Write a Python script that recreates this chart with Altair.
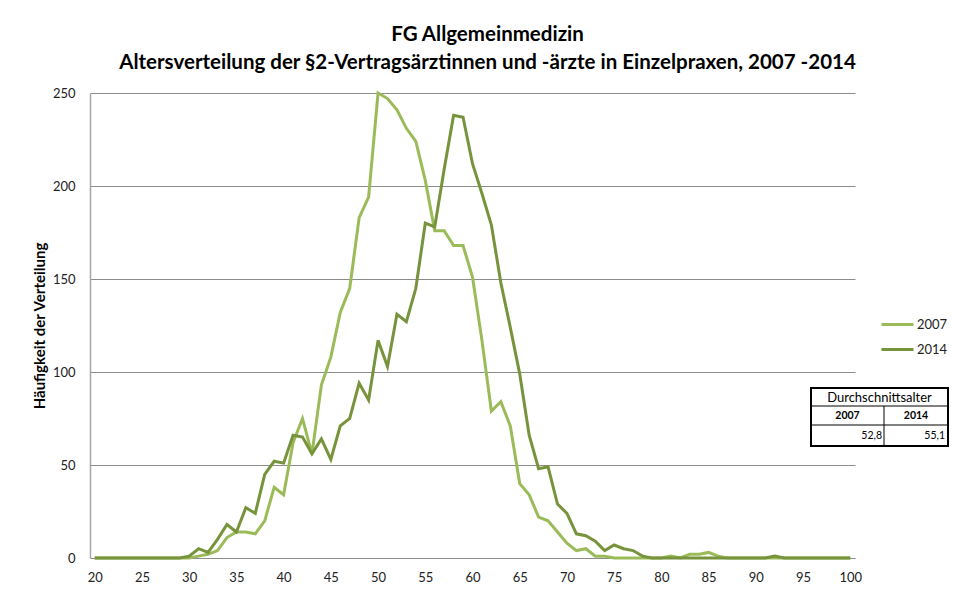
import altair as alt
import pandas as pd

# ---------------- data ----------------
ages = list(range(20, 101))
v2007 = [0, 0, 0, 0, 0, 0, 0, 0, 0, 0,          # 20-29
         0, 1, 2, 4, 11, 14, 14, 13, 20, 38,     # 30-39
         34, 62, 75, 56, 93, 108, 132, 145, 183, 194,   # 40-49
         250, 247, 241, 231, 224, 203, 176, 176, 168, 168,  # 50-59
         151, 117, 79, 84, 71, 40, 34, 22, 20, 14,  # 60-69
         8, 4, 5, 1, 1, 0, 0, 0, 0, 0,            # 70-79
         0, 1, 0, 2, 2, 3, 1, 0, 0, 0,            # 80-89
         0, 0, 0, 0, 0, 0, 0, 0, 0, 0,            # 90-99
         0]                                       # 100
v2014 = [0, 0, 0, 0, 0, 0, 0, 0, 0, 0,
         1, 5, 3, 10, 18, 14, 27, 24, 45, 52,
         51, 66, 65, 56, 64, 53, 71, 75, 94, 85,
         117, 103, 131, 127, 145, 180, 178, 209, 238, 237,
         212, 196, 179, 148, 124, 99, 66, 48, 49, 29,
         24, 13, 12, 9, 4, 7, 5, 4, 1, 0,
         0, 0, 0, 0, 0, 0, 0, 0, 0, 0,
         0, 0, 1, 0, 0, 0, 0, 0, 0, 0,
         0]
years = ["2007", "2014"]
colors = ["#9BBB59", "#77933C"]
mean_age = [52.8, 55.1]
table_header = "Durchschnittsalter"
title_lines = ["FG Allgemeinmedizin",
               "Altersverteilung der §2-Vertragsärztinnen und -ärzte in Einzelpraxen, 2007 -2014"]
y_title = "Häufigkeit der Verteilung"
x_ticks = list(range(20, 101, 5))
y_ticks = [0, 50, 100, 150, 200, 250]

df = pd.DataFrame({
    "Alter": ages + ages,
    "Wert": v2007 + v2014,
    "Jahr": [years[0]] * len(ages) + [years[1]] * len(ages),
})

FONT = "Lato"
LABEL_COLOR = "#222222"

lines = alt.Chart(df).mark_line(strokeWidth=3).encode(
    x=alt.X("Alter:Q",
            scale=alt.Scale(domain=[19.5, 100.5], nice=False, zero=False),
            axis=alt.Axis(values=x_ticks, title=None, grid=False, ticks=False,
                          domain=False, labelPadding=13, labelFont=FONT,
                          labelFontSize=13, labelColor=LABEL_COLOR)),
    y=alt.Y("Wert:Q",
            scale=alt.Scale(domain=[0, 250], nice=False),
            axis=alt.Axis(values=y_ticks, title=y_title, grid=True,
                          gridColor="#8c8c8c", gridWidth=1, ticks=False,
                          domainColor="#a6a6a6", domainWidth=1.5,
                          labelPadding=15, labelFont=FONT, labelFontSize=13,
                          labelColor=LABEL_COLOR,
                          titleFont=FONT, titleFontSize=15, titleFontWeight="bold",
                          titleColor="black", titleAngle=270,
                          titleX=-51, titleY=232.5, titleAlign="center",
                          titleBaseline="middle")),
    color=alt.Color("Jahr:N",
                    scale=alt.Scale(domain=years, range=colors),
                    legend=alt.Legend(title=None, orient="none", legendX=790,
                                      legendY=214, symbolType="stroke",
                                      symbolSize=1024, symbolStrokeWidth=3,
                                      labelFont=FONT, labelFontSize=13,
                                      labelColor=LABEL_COLOR, labelOffset=2,
                                      rowPadding=-2)),
)

# ---------------- table (annotation) ----------------
one = pd.DataFrame({"k": [0]})
TX0, TX1, TXM = 721, 858, 794
TY0, TY1, TY2, TY3 = 295, 313, 332, 353

box = alt.Chart(one).mark_rect(fill="white", stroke="black", strokeWidth=2).encode(
    x=alt.value(TX0), x2=alt.value(TX1), y=alt.value(TY0), y2=alt.value(TY3))
r1 = alt.Chart(one).mark_rule(color="black", strokeWidth=1).encode(
    x=alt.value(TX0), x2=alt.value(TX1), y=alt.value(TY1))
r2 = alt.Chart(one).mark_rule(color="black", strokeWidth=1).encode(
    x=alt.value(TX0), x2=alt.value(TX1), y=alt.value(TY2))
r3 = alt.Chart(one).mark_rule(color="black", strokeWidth=1).encode(
    x=alt.value(TXM), y=alt.value(TY1), y2=alt.value(TY3))


def txt(s, x, y, size, align="center", bold=False):
    return alt.Chart(one).mark_text(
        font=FONT, fontSize=size, color="black", align=align, baseline="middle",
        fontWeight="bold" if bold else "normal").encode(
        x=alt.value(x), y=alt.value(y), text=alt.value(s))


fmt = [f"{v:.1f}".replace(".", ",") for v in mean_age]
t_head = txt(table_header, (TX0 + TX1) / 2, (TY0 + TY1) / 2 + 0.5, 13)
t_y1 = txt(years[0], (TX0 + TXM) / 2, (TY1 + TY2) / 2, 10.5, bold=True)
t_y2 = txt(years[1], (TXM + TX1) / 2, (TY1 + TY2) / 2, 10.5, bold=True)
t_v1 = txt(fmt[0], TXM - 2, (TY2 + TY3) / 2, 10.5, align="right")
t_v2 = txt(fmt[1], TX1 - 3, (TY2 + TY3) / 2, 10.5, align="right")

chart = alt.layer(lines, box, r1, r2, r3, t_head, t_y1, t_y2, t_v1, t_v2).properties(
    width=765, height=465,
    title=alt.TitleParams(text=title_lines, font=FONT, fontSize=20.5,
                          fontWeight="bold", color="black", anchor="middle",
                          dx=15, offset=14, lineHeight=28),
    autosize=alt.AutoSizeParams(type="none"),
    padding={"left": 82, "top": 85, "right": 94, "bottom": 30},
    background="white",
).configure_view(stroke=None)

chart.save("out.html", embed_options={"renderer": "svg", "actions": False})
